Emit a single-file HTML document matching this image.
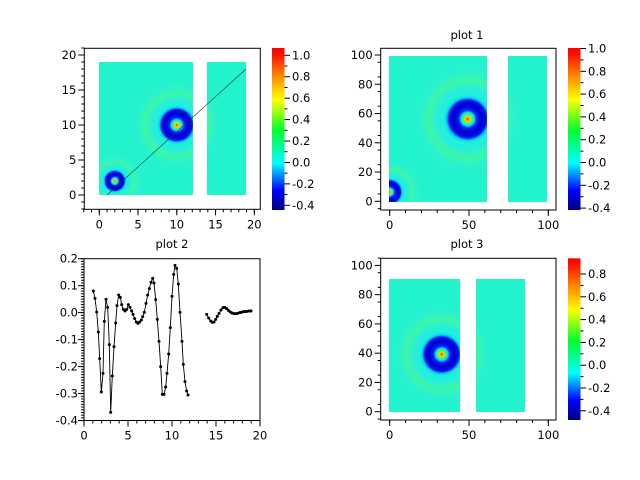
<!DOCTYPE html>
<html><head><meta charset="utf-8"><style>
html,body{margin:0;padding:0;background:#fff;width:640px;height:480px;overflow:hidden}
svg text{font-family:"DejaVu Sans","Liberation Sans",sans-serif;font-size:11.5px;fill:#000}
</style></head><body>
<svg id="s" width="640" height="480" xmlns="http://www.w3.org/2000/svg">
<defs>
<linearGradient id="jet" x1="0" y1="1" x2="0" y2="0">
<stop offset="0" stop-color="#00007f"/>
<stop offset="0.12" stop-color="#0000ff"/>
<stop offset="0.29" stop-color="#00ffff"/>
<stop offset="0.49" stop-color="#00ff30"/>
<stop offset="0.68" stop-color="#ffff00"/>
<stop offset="0.82" stop-color="#ff9000"/>
<stop offset="0.96" stop-color="#ff1000"/>
<stop offset="1" stop-color="#ff0000"/>
</linearGradient>
<radialGradient id="blob">
<stop offset="0" stop-color="#ff2000"/>
<stop offset="0.09" stop-color="#ffd000"/>
<stop offset="0.18" stop-color="#40ff60"/>
<stop offset="0.27" stop-color="#00d8ff"/>
<stop offset="0.36" stop-color="#0020ff"/>
<stop offset="0.55" stop-color="#0000c8"/>
<stop offset="0.74" stop-color="#0010f0"/>
<stop offset="0.84" stop-color="#00c8ff" stop-opacity="0.9"/>
<stop offset="1" stop-color="#22f3cc" stop-opacity="0"/>
</radialGradient>
<radialGradient id="halo">
<stop offset="0" stop-color="#22f3cc" stop-opacity="0"/>
<stop offset="0.35" stop-color="#22f3cc" stop-opacity="0"/>
<stop offset="0.45" stop-color="#20e8ff" stop-opacity="0.5"/>
<stop offset="0.62" stop-color="#50f890" stop-opacity="0.6"/>
<stop offset="0.8" stop-color="#30f0d8" stop-opacity="0.4"/>
<stop offset="1" stop-color="#22f3cc" stop-opacity="0"/>
</radialGradient>
<clipPath id="c0"><rect x="99" y="62" width="94" height="133"/><rect x="207" y="62" width="39" height="133"/></clipPath>
<clipPath id="c1"><rect x="389" y="56" width="98" height="146"/><rect x="508" y="56" width="39" height="146"/></clipPath>
<clipPath id="c3"><rect x="389" y="279" width="71" height="133"/><rect x="476" y="279" width="49" height="133"/></clipPath>
</defs>
<g id="g"></g>
</svg>
<script>
var g=document.getElementById('g'),NS='http://www.w3.org/2000/svg';
function el(t,a,txt){var e=document.createElementNS(NS,t);for(var k in a)e.setAttribute(k,a[k]);if(txt!=null)e.textContent=txt;g.appendChild(e);return e;}
var bg='#22f3cc';
function img(clip,rects,blobs){rects.forEach(function(r){el('rect',{x:r[0],y:r[1],width:r[2],height:r[3],fill:bg});});
 blobs.forEach(function(b){el('circle',{cx:b[0],cy:b[1],r:b[2]*2.8,fill:'url(#halo)','clip-path':'url(#'+clip+')'});
 el('circle',{cx:b[0],cy:b[1],r:b[2]*1.15,fill:'url(#blob)','clip-path':'url(#'+clip+')'});});}
img('c0',[[99,62,94,133],[207,62,39,133]],[[176.8,125,18],[114.8,181,11]]);
img('c1',[[389,56,98,146],[508,56,39,146]],[[467.7,119,22],[389.5,192,13]]);
img('c3',[[389,279,71,133],[476,279,49,133]],[[441.7,354.3,20]]);
el('line',{x1:107,y1:195,x2:246,y2:69,stroke:'#333','stroke-width':0.6});
function axes(L,R,T,B,xt,yt,xmin,xmax,ymin,ymax,xl,yl,xm,ym){
 el('rect',{x:L,y:T,width:R-L,height:B-T,fill:'none',stroke:'#000','stroke-width':1});
 function X(v){return xl[0]+(v-xl[1])*xl[2];} function Y(v){return yl[0]-(v-yl[1])*yl[2];}
 xt.forEach(function(v){var x=X(v);el('line',{x1:x,y1:B,x2:x,y2:B+6,stroke:'#000'});el('text',{x:x,y:B+19,'text-anchor':'middle'},v);});
 for(var v=xmin;v<=xmax+1e-9;v+=xm){var x=X(v);if(x>=L-0.5&&x<=R+0.5)el('line',{x1:x,y1:B,x2:x,y2:B+3,stroke:'#000'});}
 yt.forEach(function(v){var y=Y(v);el('line',{x1:L-6,y1:y,x2:L,y2:y,stroke:'#000'});el('text',{x:L-8,y:y+4,'text-anchor':'end'},v);});
 for(var v=ymin;v<=ymax+1e-9;v+=ym){var y=Y(v);if(y>=T-0.5&&y<=B+0.5)el('line',{x1:L-3,y1:y,x2:L,y2:y,stroke:'#000'});}
}
axes(84.3,260.3,48.3,209.3,[0,5,10,15,20],[0,5,10,15,20],-2,21,-2,21,[99.3,0,7.75],[195,0,7],1,1);
axes(380.7,556,48.3,210,[0,50,100],[0,20,40,60,80,100],-10,110,-5,110,[389.7,0,1.586],[201.3,0,1.463],10,10);
axes(380.7,556,258.3,420,[0,50,100],[0,20,40,60,80,100],-10,110,-5,110,[389.7,0,1.586],[411.7,0,1.463],10,10);
(function(){var L=84,R=260,T=258.7,B=420.5;el('rect',{x:L,y:T,width:R-L,height:B-T,fill:'none',stroke:'#000'});
 [0,5,10,15,20].forEach(function(v){var x=84+v*8.8;el('line',{x1:x,y1:B,x2:x,y2:B+6,stroke:'#000'});el('text',{x:x,y:B+19,'text-anchor':'middle'},v);});
 for(var v=0;v<=20;v++){var x=84+v*8.8;el('line',{x1:x,y1:B,x2:x,y2:B+3,stroke:'#000'});}
 ['0.2','0.1','0.0','-0.1','-0.2','-0.3','-0.4'].forEach(function(s,i){var y=T+i*26.97;el('line',{x1:L-6,y1:y,x2:L,y2:y,stroke:'#000'});el('text',{x:L-6,y:y+4,'text-anchor':'end'},s);});
 for(var i=0;i<=60;i++){var y=T+i*2.697;el('line',{x1:L-3,y1:y,x2:L,y2:y,stroke:'#000'});}
})();
function cbar(x,T,B,labels,y0,dy){el('rect',{x:x,y:T,width:12.5,height:B-T,fill:'url(#jet)'});
 labels.forEach(function(s,i){var y=y0+i*dy;el('line',{x1:x+12.5,y1:y,x2:x+18,y2:y,stroke:'#000'});el('text',{x:x+20,y:y+4},s);
 if(i<labels.length-1)el('line',{x1:x+12.5,y1:y+dy/2,x2:x+15.5,y2:y+dy/2,stroke:'#000'});});}
var lab=['1.0','0.8','0.6','0.4','0.2','0.0','-0.2','-0.4'];
cbar(272,48,210,lab,55.3,21.43);
cbar(568,48,210,lab,48.5,22.8);
cbar(568,258.3,420,['0.8','0.6','0.4','0.2','0.0','-0.2','-0.4'],274,22.8);
el('text',{x:467,y:39,'text-anchor':'middle'},'plot 1');
el('text',{x:172,y:248,'text-anchor':'middle'},'plot 2');
el('text',{x:467,y:248,'text-anchor':'middle'},'plot 3');
var s1=[[100,123],[105,145],[110,186],[115,246],[119,326],[124,426],[129,370],[133,214],[138,148],[143,172],[148,284],[152,487],[157,378],[162,290],[167,219],[171,167],[176,135],[181,142],[185,164],[190,178],[195,183],[200,178],[205,164],[210,172],[215,183],[219,193],[224,206],[229,216],[234,220],[239,216],[244,210],[248,200],[253,187],[258,160],[263,135],[268,116],[273,97],[278,85],[282,99],[287,149],[292,208],[297,274],[302,350],[307,433],[312,433],[317,411],[321,370],[326,312],[331,233],[336,139],[341,73],[345,46],[350,55],[355,102],[360,187],[366,274],[370,343],[375,395],[380,423],[384,435]];
var s2=[[440,193],[446,204],[452,213],[457,217],[462,216],[467,208],[472,199],[477,190],[483,180],[489,173],[494,172],[500,176],[505,181],[511,186],[516,189],[522,191],[528,191],[533,190],[539,188],[544,187],[550,185],[556,185],[562,184],[568,183],[573,183]];
[s1,s2].forEach(function(s){var p=s.map(function(q){return (60+q[0]/3).toFixed(1)+','+(250+q[1]/3).toFixed(1);}).join(' ');
 el('polyline',{points:p,fill:'none',stroke:'#000','stroke-width':0.9});
 s.forEach(function(q){el('circle',{cx:60+q[0]/3,cy:250+q[1]/3,r:1.5,fill:'#000'});});});
</script>
</body></html>
